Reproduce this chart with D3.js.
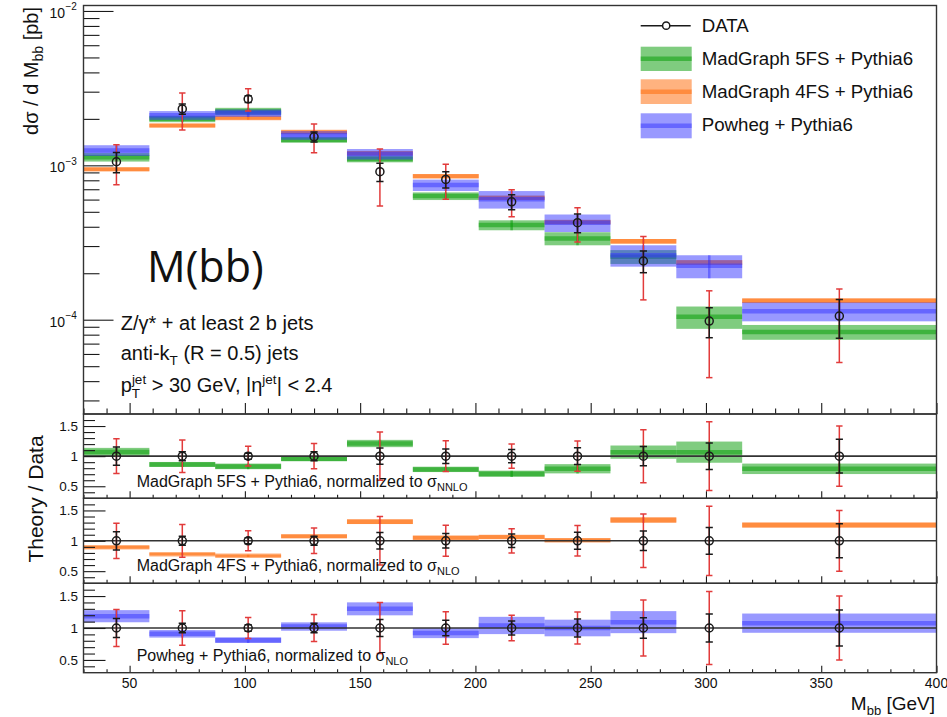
<!DOCTYPE html>
<html>
<head>
<meta charset="utf-8">
<script src="https://cdn.jsdelivr.net/npm/d3@7"></script>
<style>
  body { margin: 0; background: #fff; }
  svg text { font-family: "Liberation Sans", Arial, Helvetica, sans-serif; fill: #111; }
</style>
</head>
<body>
<svg id="chart" width="947" height="717"></svg>
<script>
// ---- binning (GeV) ----
const binEdges = [30, 58.57, 87.14, 115.71, 144.29, 172.86, 201.43, 230, 258.57, 287.14, 315.71, 400];

// ---- measured dsigma/dMbb [pb/GeV] with relative stat. and total uncertainties ----
const dataXsec  = [1.055e-3, 2.32e-3, 2.69e-3, 1.53e-3, 0.91e-3, 0.81e-3, 0.58e-3, 0.425e-3, 0.24e-3, 0.98e-4, 1.055e-4];
const dataStat  = [0.15, 0.075, 0.05, 0.075, 0.135, 0.12, 0.11, 0.14, 0.16, 0.22, 0.28];
const dataTotal = [0.29, 0.27, 0.165, 0.21, 0.40, 0.255, 0.20, 0.25, 0.44, 0.57, 0.50];

// ---- predictions [pb/GeV] with relative band half-widths ----
const mg5Xsec = [1.129e-3, 2.000e-3, 2.233e-3, 1.463e-3, 1.101e-3, 0.632e-3, 0.410e-3, 0.336e-3, 0.256e-3, 1.045e-4, 0.833e-4];
const mg5Unc  = [0.063, 0.048, 0.056, 0.043, 0.05, 0.057, 0.074, 0.097, 0.103, 0.165, 0.11];
const mg4Xsec = [0.942e-3, 1.810e-3, 2.026e-3, 1.642e-3, 1.197e-3, 0.851e-3, 0.616e-3, 0.429e-3, 0.322e-3, 2.35e-4, 1.328e-4];
const mg4Unc  = [0.025, 0.025, 0.025, 0.025, 0.03, 0.03, 0.03, 0.03, 0.035, 0.035, 0.035];
const powXsec = [1.250e-3, 2.109e-3, 2.179e-3, 1.565e-3, 1.183e-3, 0.745e-3, 0.603e-3, 0.425e-3, 0.262e-3, 2.235e-4, 1.135e-4];
const powUnc  = [0.08, 0.065, 0.055, 0.064, 0.078, 0.085, 0.13, 0.13, 0.158, 0.17, 0.14];

// ---- axis ticks ----
const xMajorTicks = [50, 100, 150, 200, 250, 300, 350, 400];
const xTickLabels = ["50", "100", "150", "200", "250", "300", "350", "400"];
const yDecades = [1e-4, 1e-3, 1e-2];
const yDecadeLabels = ["\u22124", "\u22123", "\u22122"];
const ratioMajor = [0.5, 1, 1.5];
const ratioLabels = ["0.5", "1", "1.5"];

const models = [
  { name: "MadGraph 5FS + Pythia6", xs: mg5Xsec, unc: mg5Unc, color: "rgb(0,153,0)", norm: "NNLO" },
  { name: "MadGraph 4FS + Pythia6", xs: mg4Xsec, unc: mg4Unc, color: "rgb(255,102,0)", norm: "NLO" },
  { name: "Powheg + Pythia6", xs: powXsec, unc: powUnc, color: "rgb(51,51,255)", norm: "NLO" }
];

// ---- layout ----
const left = 83.5, right = 936.5;
const mainTop = 5.5, mainBot = 414;
const panels = [[414, 498.3], [498.3, 583.3], [583.3, 672.7]];
const RED = "#e23b3b", INK = "#1a1a1a";

const svg = d3.select("#chart");
const x = d3.scaleLinear().domain([30, 400]).range([left, right]);
const y = d3.scaleLog().domain([2.45e-5, 1.085e-2]).range([mainBot, mainTop]);

const bins = dataXsec.map((d, i) => ({ i, lo: binEdges[i], hi: binEdges[i + 1], c: (binEdges[i] + binEdges[i + 1]) / 2 }));

// clip paths
const defs = svg.append("defs");
defs.append("clipPath").attr("id", "clip-main").append("rect")
  .attr("x", left).attr("y", mainTop).attr("width", right - left).attr("height", mainBot - mainTop);
panels.forEach((p, k) => {
  defs.append("clipPath").attr("id", "clip-r" + k).append("rect")
    .attr("x", left).attr("y", p[0]).attr("width", right - left).attr("height", p[1] - p[0]);
});

// ---- helpers ----
function drawBands(g, ys, getVal, unc, color, valid) {
  bins.forEach(b => {
    const v = getVal(b.i);
    if (!valid(v)) return;
    const u = unc[b.i];
    const yTop = ys(v * (1 + u)), yBot = ys(v * (1 - u));
    g.append("rect").attr("x", x(b.lo)).attr("width", x(b.hi) - x(b.lo))
      .attr("y", yTop).attr("height", yBot - yTop)
      .attr("fill", color).attr("fill-opacity", 0.5);
    g.append("line").attr("x1", x(b.lo)).attr("x2", x(b.hi)).attr("y1", ys(v)).attr("y2", ys(v))
      .attr("stroke", color).attr("stroke-opacity", 0.5).attr("stroke-width", 4.5);
    g.append("line").attr("x1", x(b.c)).attr("x2", x(b.c)).attr("y1", yTop).attr("y2", yBot)
      .attr("stroke", color).attr("stroke-opacity", 0.5).attr("stroke-width", 2.5);
  });
}

function errBar(g, cx, y1, y2, color, w) {
  g.append("line").attr("x1", cx).attr("x2", cx).attr("y1", y1).attr("y2", y2)
    .attr("stroke", color).attr("stroke-width", 1.5);
  [y1, y2].forEach(yy => g.append("line").attr("x1", cx - w).attr("x2", cx + w).attr("y1", yy).attr("y2", yy)
    .attr("stroke", color).attr("stroke-width", 1.5));
}

function drawData(g, ys, getVal, getLoHi) {
  bins.forEach(b => {
    const cx = x(b.c), v = getVal(b.i);
    const tot = getLoHi(b.i, dataTotal[b.i]);
    const st = getLoHi(b.i, dataStat[b.i]);
    errBar(g, cx, ys(tot[1]), ys(tot[0]), RED, 3.2);
    errBar(g, cx, ys(st[1]), ys(st[0]), INK, 3.6);
    g.append("circle").attr("cx", cx).attr("cy", ys(v)).attr("r", 4)
      .attr("fill", "none").attr("stroke", INK).attr("stroke-width", 1.5);
  });
}

function xTicks(yPos, majorLen, minorLen) {
  const minors = d3.range(30, 401, 10).filter(t => t % 50 !== 0);
  const gA = svg.append("g").attr("transform", `translate(0,${yPos})`)
    .call(d3.axisBottom(x).tickValues(xMajorTicks).tickSize(-majorLen).tickSizeOuter(0).tickFormat(""));
  const gB = svg.append("g").attr("transform", `translate(0,${yPos})`)
    .call(d3.axisBottom(x).tickValues(minors).tickSize(-minorLen).tickSizeOuter(0).tickFormat(""));
  [gA, gB].forEach(g => { g.select(".domain").remove(); g.selectAll("line").attr("stroke", INK).attr("stroke-width", 1.1); });
}

// ================= main panel =================
const gMain = svg.append("g").attr("clip-path", "url(#clip-main)");
models.forEach(m => drawBands(gMain, y, i => m.xs[i], m.unc, m.color, () => true));
drawData(gMain, y, i => dataXsec[i], (i, e) => [dataXsec[i] * (1 - e), dataXsec[i] * (1 + e)]);

// y axis ticks (log)
const yMinor = [];
[1e-5, 1e-4, 1e-3].forEach(dec => d3.range(2, 10).forEach(k => yMinor.push(k * dec)));
const yMinorIn = yMinor.filter(v => v > y.domain()[0] && v < y.domain()[1]);
const gyA = svg.append("g").attr("transform", `translate(${left},0)`)
  .call(d3.axisLeft(y).tickValues(yDecades).tickSize(-30).tickSizeOuter(0).tickFormat(""));
const gyB = svg.append("g").attr("transform", `translate(${left},0)`)
  .call(d3.axisLeft(y).tickValues(yMinorIn).tickSize(-16).tickSizeOuter(0).tickFormat(""));
[gyA, gyB].forEach(g => { g.select(".domain").remove(); g.selectAll("line").attr("stroke", INK).attr("stroke-width", 1.1); });

yDecades.forEach((v, k) => {
  svg.append("text").attr("x", 65).attr("y", y(v) + 7).attr("text-anchor", "end")
    .attr("font-size", 14).text("10");
  svg.append("text").attr("x", 65.5).attr("y", y(v) - 0.5).attr("font-size", 10).text(yDecadeLabels[k]);
});
xTicks(mainBot, 11, 5.5);

// y title
svg.append("text").attr("transform", "translate(38,7) rotate(-90)").attr("text-anchor", "end")
  .attr("font-size", 20)
  .call(t => {
    t.append("tspan").text("d\u03c3 / d M");
    t.append("tspan").attr("font-size", 14).attr("dy", 5).text("bb");
    t.append("tspan").attr("dy", -5).text(" [pb]");
  });

// big label
svg.append("text").attr("x", 147).attr("y", 281.7)
  .style("font-family", "'Open Sans', 'Noto Sans', sans-serif").attr("font-size", 43).text("M(bb)");

// selection text
const noteSize = 20;
svg.append("text").attr("x", 120.7).attr("y", 330).attr("font-size", noteSize).text("Z/\u03b3* + at least 2 b jets");
svg.append("text").attr("x", 120.7).attr("y", 359.5).attr("font-size", noteSize)
  .call(t => {
    t.append("tspan").text("anti-k");
    t.append("tspan").attr("font-size", 13.5).attr("dy", 5).text("T");
    t.append("tspan").attr("dy", -5).text(" (R = 0.5) jets");
  });
svg.append("text").attr("x", 120.7).attr("y", 391.5).attr("font-size", noteSize)
  .call(t => {
    t.append("tspan").text("p");
    t.append("tspan").attr("font-size", 13.5).attr("dy", 6).text("T");
    t.append("tspan").attr("font-size", 13.5).attr("dx", -8.2).attr("dy", -14).text("jet");
    t.append("tspan").attr("dy", 8).text(" > 30 GeV, |\u03b7");
    t.append("tspan").attr("font-size", 13.5).attr("dy", -8).text("jet");
    t.append("tspan").attr("dy", 8).text("| < 2.4");
  });

// legend
const lg = svg.append("g");
const lgX0 = 640.7, lgX1 = 691.7, lgText = 701.7;
lg.append("line").attr("x1", lgX0).attr("x2", lgX1 - 1).attr("y1", 25.7).attr("y2", 25.7)
  .attr("stroke", INK).attr("stroke-width", 1.5);
lg.append("circle").attr("cx", (lgX0 + lgX1) / 2).attr("cy", 25.7).attr("r", 3.6)
  .attr("fill", "#fff").attr("stroke", INK).attr("stroke-width", 1.5);
lg.append("text").attr("x", lgText).attr("y", 32.4).attr("font-size", 18.7).text("DATA");
const lgRows = [[46.7, 71, 65], [79.3, 104, 97.5], [113.3, 138.3, 130.7]];
models.forEach((m, k) => {
  const [t0, t1, tb] = lgRows[k];
  lg.append("rect").attr("x", lgX0).attr("y", t0).attr("width", lgX1 - lgX0).attr("height", t1 - t0)
    .attr("fill", m.color).attr("fill-opacity", 0.5);
  lg.append("line").attr("x1", lgX0).attr("x2", lgX1).attr("y1", (t0 + t1) / 2).attr("y2", (t0 + t1) / 2)
    .attr("stroke", m.color).attr("stroke-opacity", 0.5).attr("stroke-width", 4.5);
  lg.append("text").attr("x", lgText).attr("y", tb).attr("font-size", 18.7).text(m.name);
});

// ================= ratio panels =================
const labelBase = [486.7, 571, 660.7];
models.forEach((m, k) => {
  const [pTop, pBot] = panels[k];
  const yr = d3.scaleLinear().domain([0.3, 1.7]).range([pBot, pTop]);
  const g = svg.append("g").attr("clip-path", `url(#clip-r${k})`);
  drawBands(g, yr, i => m.xs[i] / dataXsec[i], m.unc, m.color, r => r >= 0.3 && r <= 1.7);
  // unity line
  g.append("line").attr("x1", left).attr("x2", right).attr("y1", yr(1)).attr("y2", yr(1))
    .attr("stroke", "#333").attr("stroke-width", 1.6);
  drawData(g, yr, () => 1, (i, e) => [1 - e, 1 + e]);

  // y ticks
  const minors = d3.range(4, 17).map(v => v / 10).filter(v => ![0.5, 1, 1.5].includes(v));
  const gA = svg.append("g").attr("transform", `translate(${left},0)`)
    .call(d3.axisLeft(yr).tickValues(ratioMajor).tickSize(-22).tickSizeOuter(0).tickFormat(""));
  const gB = svg.append("g").attr("transform", `translate(${left},0)`)
    .call(d3.axisLeft(yr).tickValues(minors).tickSize(-11.5).tickSizeOuter(0).tickFormat(""));
  [gA, gB].forEach(gg => { gg.select(".domain").remove(); gg.selectAll("line").attr("stroke", INK).attr("stroke-width", 1.1); });
  ratioMajor.forEach((v, j) => {
    svg.append("text").attr("x", 78).attr("y", yr(v) + 4.8).attr("text-anchor", "end")
      .attr("font-size", 13.5).text(ratioLabels[j]);
  });
  xTicks(pBot, 7, 3.5);

  svg.append("text").attr("x", 136.7).attr("y", labelBase[k]).attr("font-size", 16)
    .call(t => {
      t.append("tspan").text(m.name + ", normalized to \u03c3");
      t.append("tspan").attr("font-size", 11).attr("dy", 4).text(m.norm);
    });
});

// ratio title
svg.append("text").attr("transform", "translate(43,499) rotate(-90)").attr("text-anchor", "middle")
  .attr("font-size", 21).text("Theory / Data");

// x tick labels
xMajorTicks.forEach((v, j) => {
  svg.append("text").attr("x", x(v)).attr("y", 688.3).attr("text-anchor", "middle")
    .attr("font-size", 14).text(xTickLabels[j]);
});
// x title
svg.append("text").attr("x", 935).attr("y", 710).attr("text-anchor", "end").attr("font-size", 19)
  .call(t => {
    t.append("tspan").text("M");
    t.append("tspan").attr("font-size", 13).attr("dy", 5).text("bb");
    t.append("tspan").attr("dy", -5).text(" [GeV]");
  });

// frames
svg.append("rect").attr("x", left).attr("y", mainTop).attr("width", right - left).attr("height", mainBot - mainTop)
  .attr("fill", "none").attr("stroke", "#333").attr("stroke-width", 1.4);
panels.forEach(p => {
  svg.append("rect").attr("x", left).attr("y", p[0]).attr("width", right - left).attr("height", p[1] - p[0])
    .attr("fill", "none").attr("stroke", "#333").attr("stroke-width", 1.4);
});
</script>
</body>
</html>
